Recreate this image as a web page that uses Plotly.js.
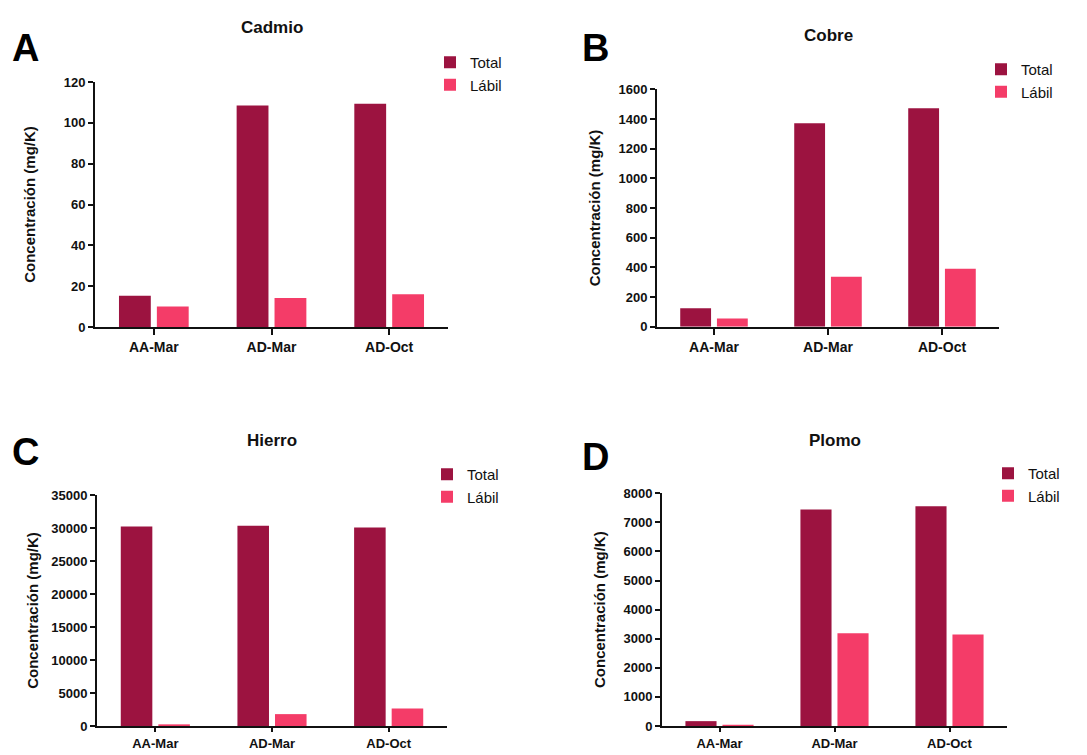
<!DOCTYPE html>
<html>
<head>
<meta charset="utf-8">
<script src="https://cdn.plot.ly/plotly-3.0.1.min.js"></script>
<style>
html,body{margin:0;padding:0;background:#fff;}
#chart{width:1087px;height:755px;}
</style>
</head>
<body>
<div id="chart"></div>
<script>
const categories = ["AA-Mar", "AD-Mar", "AD-Oct"];
const seriesNames = ["Total", "Lábil"];

const cadmioTotal = [15.3, 108.5, 109.3];
const cadmioLabil = [10.1, 14.2, 16.0];

const cobreTotal = [124, 1371, 1472];
const cobreLabil = [56, 337, 391];

const hierroTotal = [30210, 30356, 30063];
const hierroLabil = [250, 1800, 2636];

const plomoTotal = [167, 7443, 7553];
const plomoLabil = [43, 3189, 3144];

const cadmioTicks = [0, 20, 40, 60, 80, 100, 120];
const cobreTicks = [0, 200, 400, 600, 800, 1000, 1200, 1400, 1600];
const hierroTicks = [0, 5000, 10000, 15000, 20000, 25000, 30000, 35000];
const plomoTicks = [0, 1000, 2000, 3000, 4000, 5000, 6000, 7000, 8000];

const panelTitles = ["Cadmio", "Cobre", "Hierro", "Plomo"];
const panelLetters = ["A", "B", "C", "D"];
const yTitle = "Concentración (mg/K)";

const colTotal = "#9c1340";
const colLabil = "#f43c68";
const FONT = "Arial, 'Liberation Sans', sans-serif";

const panels = [
  [cadmioTotal, cadmioLabil, cadmioTicks],
  [cobreTotal, cobreLabil, cobreTicks],
  [hierroTotal, hierroLabil, hierroTicks],
  [plomoTotal, plomoLabil, plomoTicks]
];

const W = 1087, H = 755;
const px = v => v / W;
const py = v => (H - v) / H;
const bold = a => a.map(v => "<b>" + v + "</b>");

// panel geometry (pixel positions of plot areas)
const geo = [
  {x0: 95,  x1: 448,  yb: 327,   yt: 82,   standoff: 24, legX: 430, legY: 46, ttl: 28,  tl: 6, xf: 14},
  {x0: 657, x1: 999,  yb: 326.7, yt: 89.3, standoff: 14, legX: 981, legY: 53, ttl: 35,  tl: 6, xf: 14},
  {x0: 97,  x1: 447,  yb: 726,   yt: 495,  standoff: 9,  legX: 427, legY: 458, ttl: 441, tl: 4, xf: 13},
  {x0: 662, x1: 1007, yb: 726,   yt: 493.3,standoff: 14, legX: 988, legY: 457, ttl: 440, tl: 4, xf: 13}
];

const data = [];
const layout = {
  width: W, height: H,
  margin: {l: 0, r: 0, t: 0, b: 0},
  paper_bgcolor: "#ffffff",
  plot_bgcolor: "#ffffff",
  barmode: "group",
  bargap: 0.356,
  bargroupgap: 0.16,
  font: {family: FONT, color: "#111"},
  annotations: []
};

panels.forEach((p, i) => {
  const n = i === 0 ? "" : String(i + 1);
  const legName = "legend" + n;
  [0, 1].forEach(s => {
    data.push({
      type: "bar",
      name: seriesNames[s],
      x: categories,
      y: p[s],
      xaxis: "x" + n,
      yaxis: "y" + n,
      legend: legName,
      marker: {color: s === 0 ? colTotal : colLabil},
      hoverinfo: "x+y+name"
    });
  });
  const g = geo[i];
  const ticks = p[2];
  layout["xaxis" + n] = {
    domain: [px(g.x0), px(g.x1)],
    anchor: "y" + n,
    range: [-0.5, 2.5],
    tickvals: categories, ticktext: bold(categories),
    showline: true, linecolor: "#111", linewidth: 2,
    ticks: "outside", ticklen: g.tl, tickwidth: 2, tickcolor: "#111",
    showgrid: false, zeroline: false,
    tickfont: {family: FONT, size: g.xf, color: "#111", weight: "bold"},
    fixedrange: true
  };
  layout["yaxis" + n] = {
    domain: [py(g.yb), py(g.yt)],
    anchor: "x" + n,
    range: [0, ticks[ticks.length - 1]],
    tickvals: ticks, ticktext: bold(ticks),
    showline: true, linecolor: "#111", linewidth: 2,
    ticks: "outside", ticklen: 5, tickwidth: 2, tickcolor: "#111",
    showgrid: false, zeroline: false,
    tickfont: {family: FONT, size: 13, color: "#111", weight: "bold"},
    title: {text: yTitle, standoff: g.standoff, font: {family: FONT, size: 15, color: "#111", weight: "bold"}},
    fixedrange: true
  };
  layout[legName] = {
    x: px(g.legX), y: py(g.legY), xanchor: "left", yanchor: "top",
    bgcolor: "rgba(0,0,0,0)", borderwidth: 0,
    font: {family: FONT, size: 15, color: "#111"},
    tracegroupgap: 0
  };
  const cx = (g.x0 + g.x1) / 2;
  layout.annotations.push({
    text: panelTitles[i], xref: "paper", yref: "paper",
    x: px(cx), y: py(g.ttl),
    showarrow: false, xanchor: "center", yanchor: "middle",
    font: {family: FONT, size: 17, color: "#111", weight: "bold"}
  });
});

// panel letters
const letterPos = [[25, 48], [595, 48], [25, 452], [595, 457]];
letterPos.forEach((lp, i) => {
  layout.annotations.push({
    text: panelLetters[i], xref: "paper", yref: "paper",
    x: px(lp[0]), y: py(lp[1]), showarrow: false,
    xanchor: "center", yanchor: "middle",
    font: {family: FONT, size: 38, color: "#000", weight: "bold"}
  });
});

Plotly.newPlot("chart", data, layout, {displayModeBar: false, staticPlot: true});
</script>
</body>
</html>
